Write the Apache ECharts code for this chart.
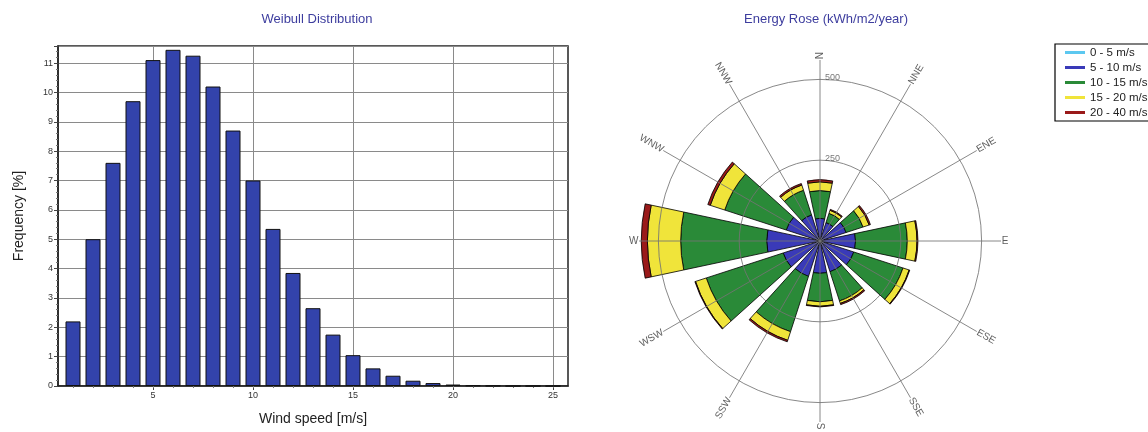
<!DOCTYPE html>
<html><head><meta charset="utf-8">
<script src="https://cdn.jsdelivr.net/npm/echarts@6/dist/echarts.min.js"></script>
<style>html,body{margin:0;padding:0;background:#fff;overflow:hidden}#c{width:1148px;height:432px}</style>
</head><body><div id="c"></div>
<script>
// ---- Weibull distribution (left) ----
const windSpeeds = [1,2,3,4,5,6,7,8,9,10,11,12,13,14,15,16,17,18,19,20,21,22,23,24,25];
const frequency  = [2.2,5.0,7.6,9.7,11.1,11.45,11.25,10.2,8.7,7.0,5.35,3.85,2.65,1.75,1.05,0.6,0.35,0.18,0.1,0.05,0.02,0.01,0,0,0];
const xTickValues = [5,10,15,20,25];
const xMinorTickValues = windSpeeds;

// ---- Energy rose (right) ----
const directions = ['N','NNE','ENE','E','ESE','SSE','S','SSW','WSW','W','WNW','NNW'];
const speedBins = ['0 - 5 m/s','5 - 10 m/s','10 - 15 m/s','15 - 20 m/s','20 - 40 m/s'];
const energy0to5   = [3,2,3,4,4,4,4,4,4,5,4,3];
const energy5to10  = [67,58,82,106,106,96,96,111,116,160,106,82];
const energy10to15 = [86,30,55,160,160,95,88,180,250,266,200,80];
const energy15to20 = [27,10,20,30,20,8,14,28,35,103,47,17];
const energy20to40 = [7,3,4,3,2,4,2,5,2,19,8,5];
const radiusTicks = [250,500];

const binColors = ['#5cc8f0','#3a3ab8','#2a8a38','#f0e43a','#9a1a1a'];
const binData = [energy0to5, energy5to10, energy10to15, energy15to20, energy20to40];
const FONT = 'Liberation Sans, Arial, sans-serif';

const chart = echarts.init(document.getElementById('c'), null, {renderer:'canvas'});

const roseSeries = speedBins.map((name, k) => ({
  name: name,
  type: 'bar',
  coordinateSystem: 'polar',
  stack: 'energy',
  data: binData[k],
  barCategoryGap: '20%',
  itemStyle: {color: binColors[k], borderColor: '#000', borderWidth: 0.8},
  z: 2
}));

const directionLabels = {
  type: 'scatter',
  coordinateSystem: 'polar',
  symbolSize: 0,
  silent: true,
  clip: false,
  z: 6,
  data: directions.map((d, i) => {
    const bearing = i * 30;
    const right = bearing <= 180;
    return {
      value: [562, d],
      label: {
        show: true,
        formatter: d,
        position: 'inside',
        rotate: right ? 90 - bearing : 270 - bearing,
        align: right ? 'left' : 'right',
        verticalAlign: 'middle',
        fontSize: 10,
        color: '#333',
        fontFamily: FONT
      }
    };
  })
};

const radiusLabels = {
  type: 'scatter',
  coordinateSystem: 'polar',
  symbolSize: 0,
  silent: true,
  clip: false,
  z: 6,
  data: radiusTicks.map(v => ({
    value: [v, directions[0]],
    label: {
      show: true, formatter: String(v), position: 'inside',
      align: 'left', verticalAlign: 'middle', offset: [5, -2],
      fontSize: 9, color: '#555', fontFamily: FONT
    }
  }))
};

chart.setOption({
  animation: false,
  backgroundColor: '#fff',
  textStyle: {fontFamily: FONT},
  title: [
    {text: 'Weibull Distribution', left: 312, top: 8, textAlign: 'center',
     textStyle: {fontSize: 13, fontWeight: 'normal', color: '#3d3d9e', fontFamily: FONT}},
    {text: 'Energy Rose (kWh/m2/year)', left: 821, top: 8, textAlign: 'center',
     textStyle: {fontSize: 13, fontWeight: 'normal', color: '#3d3d9e', fontFamily: FONT}}
  ],
  legend: {
    data: speedBins,
    orient: 'vertical',
    left: 1055, top: 44,
    itemWidth: 20, itemHeight: 3, itemGap: 2,
    icon: 'rect',
    padding: [2, 20, 2, 10],
    borderColor: '#000', borderWidth: 1.2,
    backgroundColor: '#fff',
    itemStyle: {borderWidth: 0},
    textStyle: {fontSize: 11.5, lineHeight: 13, color: '#222', fontFamily: FONT}
  },
  grid: [
    {left: 58, right: 580, top: 46, bottom: 46, show: true, borderColor: '#222', borderWidth: 1.5, containLabel: false},
    {left: 58, right: 580, top: 46, bottom: 46, show: false}
  ],
  xAxis: [
    {type: 'value', gridIndex: 0, min: 0.25, max: 25.75,
     name: 'Wind speed [m/s]', nameLocation: 'middle', nameGap: 26,
     nameTextStyle: {fontSize: 14, color: '#222', fontFamily: FONT},
     axisLine: {show: true, lineStyle: {color: '#222', width: 1.5}},
     axisTick: {show: true, length: 4, customValues: xTickValues, lineStyle: {color: '#444'}},
     axisLabel: {fontSize: 9, color: '#333', margin: 5, customValues: xTickValues},
     splitLine: {show: true, lineStyle: {color: '#8a8a8a', width: 1}}
    },
    {type: 'value', gridIndex: 1, min: 0.25, max: 25.75,
     axisLine: {show: false},
     axisTick: {show: true, length: 2, customValues: xMinorTickValues, lineStyle: {color: '#777'}},
     axisLabel: {show: false},
     splitLine: {show: false}
    }
  ],
  yAxis: [
    {type: 'value', gridIndex: 0, min: 0, max: 11.58, interval: 1,
     name: 'Frequency [%]', nameLocation: 'middle', nameGap: 32,
     nameTextStyle: {fontSize: 14, color: '#222', fontFamily: FONT},
     axisLine: {show: true, lineStyle: {color: '#222', width: 1.5}},
     axisTick: {show: true, length: 4, lineStyle: {color: '#444'}},
     minorTick: {show: true, splitNumber: 5, length: 2, lineStyle: {color: '#777'}},
     axisLabel: {fontSize: 9, color: '#333', margin: 5, showMaxLabel: false},
     splitLine: {show: true, lineStyle: {color: '#8a8a8a', width: 1}}
    },
    {type: 'value', gridIndex: 1, min: 0, max: 11.58, show: false}
  ],
  polar: {center: [820, 241], radius: 181},
  angleAxis: {
    type: 'category', data: directions, startAngle: 105, clockwise: true, boundaryGap: true,
    z: 3,
    axisLine: {show: false},
    axisTick: {show: false, alignWithLabel: true},
    axisLabel: {show: false},
    splitLine: {show: true, lineStyle: {color: 'rgba(115,115,115,0.85)', width: 1}}
  },
  radiusAxis: {
    type: 'value', min: 0, max: 560, interval: 250,
    z: 3,
    axisLine: {show: false},
    axisTick: {show: false},
    axisLabel: {show: false},
    splitLine: {show: true, lineStyle: {color: ['rgba(115,115,115,0.85)','rgba(115,115,115,0.85)','rgba(115,115,115,0.85)','rgba(0,0,0,0)'], width: 1}}
  },
  series: [
    {name: 'Frequency', type: 'bar', xAxisIndex: 0, yAxisIndex: 0,
     data: windSpeeds.map((x, i) => [x, frequency[i]]),
     barWidth: 15,
     itemStyle: {color: '#3343ab', borderColor: '#111', borderWidth: 1}
    },
    ...roseSeries,
    directionLabels,
    radiusLabels
  ]
});
</script>
</body></html>
